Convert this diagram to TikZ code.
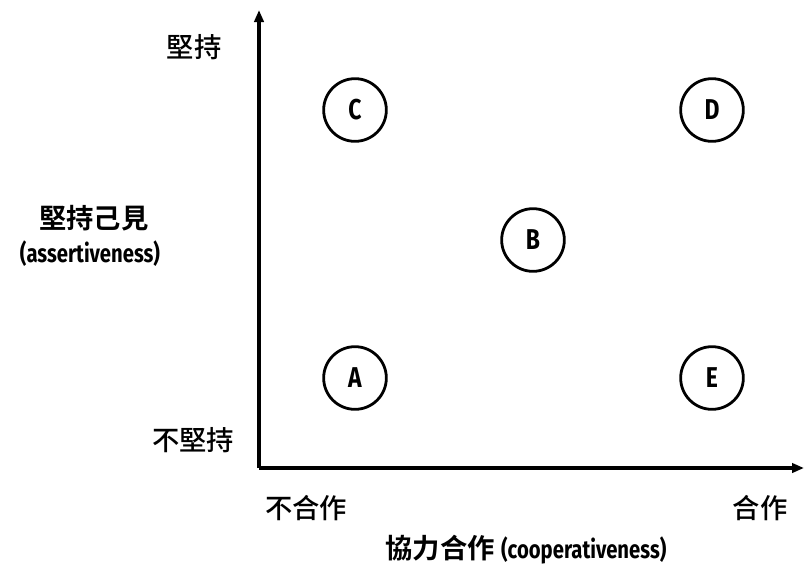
\documentclass[tikz,border=0pt]{standalone}
\usepackage{fontspec}
\setmainfont{Noto Sans CJK TC}
\newfontfamily\cjkb{Noto Sans CJK TC Bold}
\newfontfamily\cjkm{Noto Sans CJK TC Medium}
\newfontfamily\latb{Fira Sans}
\usetikzlibrary{arrows.meta}
\begin{document}
\begin{tikzpicture}[x=0.75pt,y=-0.75pt,
  axis/.style={line width=2.3pt,-{Triangle[length=9pt,width=7pt]}},
  pt/.style={circle,draw,line width=2.1pt,minimum size=47pt,inner sep=0pt,font=\latb\bfseries\fontsize{21.5}{24}\selectfont},
  lab/.style={font=\cjkm\fontsize{20.5}{24}\selectfont,inner sep=0pt},
  blab/.style={font=\cjkb\fontsize{20.5}{24}\selectfont,inner sep=0pt},
  latlab/.style={font=\latb\bfseries\fontsize{19}{23}\selectfont,inner sep=0pt}]
\useasboundingbox (0,0) rectangle (804,565);
\coordinate (O) at (259,468);
\coordinate (Ytop) at (259,10);
\coordinate (Xend) at (804,468);
\draw[axis] (O) -- (Ytop);
\draw[axis] (O) -- (Xend);
\node[pt] (C) at (355,110) {\scalebox{0.8}[1]{C}};
\node[pt] (D) at (712,110) {\scalebox{0.8}[1]{D}};
\node[pt] (B) at (533,240) {\scalebox{0.8}[1]{B}};
\node[pt] (A) at (355,378) {\scalebox{0.8}[1]{A}};
\node[pt] (E) at (712,378) {\scalebox{0.8}[1]{E}};
\node[lab] (hi) at (194,47) {堅持};
\node[lab] (lo) at (193,440) {不堅持};
\node[lab] (nc) at (306,508) {不合作};
\node[lab] (co) at (760,508) {合作};
\node[blab] (yl1) at (94,218) {堅持己見};
\node[latlab] (yl2) at (90,254) {\scalebox{0.8}[1]{(assertiveness)}};
\node[blab] (xl) at (526,550) {協力合作 {\latb\bfseries\fontsize{19}{23}\selectfont\scalebox{0.8}[1]{(cooperativeness)}}};
\end{tikzpicture}
\end{document}
